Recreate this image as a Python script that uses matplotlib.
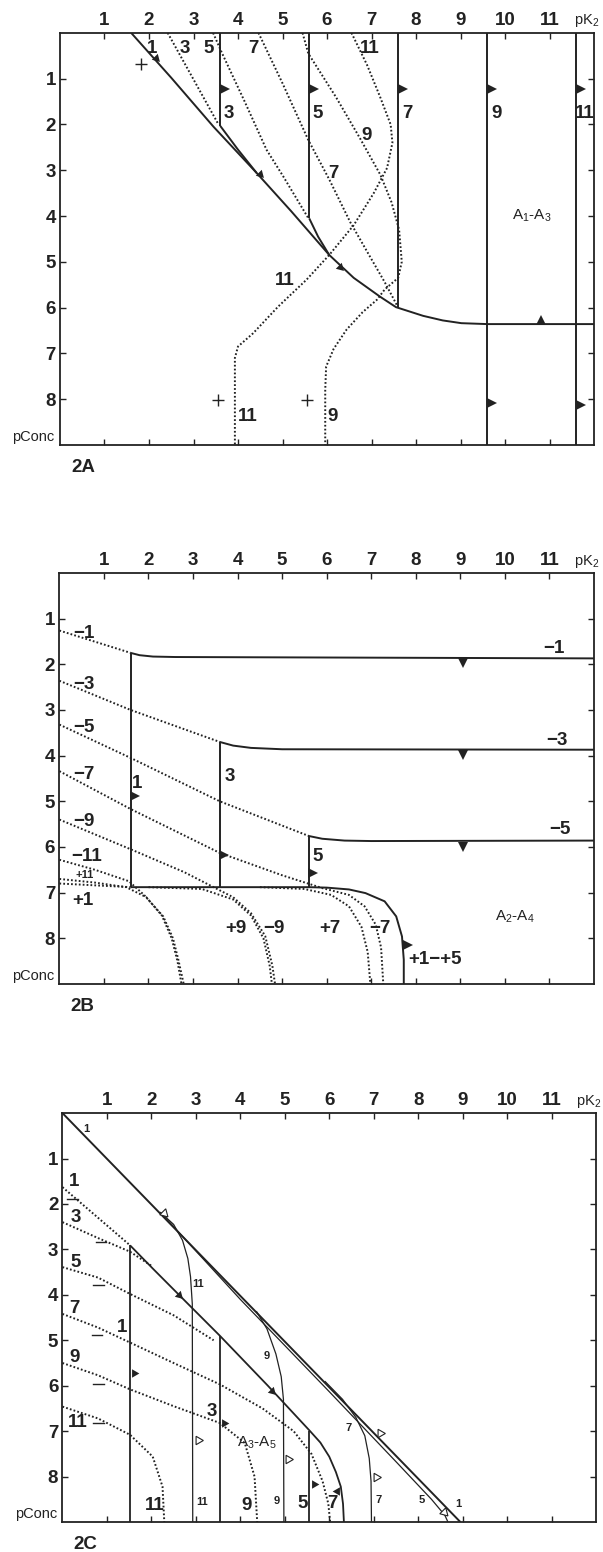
import numpy as np
import matplotlib.pyplot as plt

plt.rcParams['font.family'] = ['Liberation Sans', 'DejaVu Sans']
plt.rcParams['mathtext.fontset'] = 'custom'
plt.rcParams['mathtext.rm'] = 'Liberation Sans'
plt.rcParams['mathtext.it'] = 'Liberation Sans'

INK = '#222222'
DOT = (0, (0.9, 1.1))
FS = 13.5

# ---------------- panel 2A data ----------------
a_main_x = [1.6, 2.5, 3.45, 4.42, 5.2, 6.05, 6.6, 7.19, 7.55, 8.16, 8.6, 9.02, 9.6, 12.0]
a_main_y = [0.0, 0.98, 2.05, 3.06, 3.9, 4.85, 5.35, 5.76, 5.99, 6.18, 6.28, 6.34, 6.36, 6.36]
a_branch3_x = [3.6, 4.0, 4.42]
a_branch3_y = [2.03, 2.55, 3.06]
a_branch5_x = [5.6, 5.8, 6.05]
a_branch5_y = [4.05, 4.45, 4.85]
a_vert_x = [3.6, 5.6, 7.6, 9.6, 11.6]
a_vert_bot = [2.03, 4.05, 6.0, 9.0, 9.0]
a_vert_lab = ['3', '5', '7', '9', '11']

a_dot3_x = [2.42, 3.55]
a_dot3_y = [0.0, 1.98]
a_dot5_x = [3.44, 3.64, 4.15, 4.64, 5.02, 5.57]
a_dot5_y = [0.0, 0.44, 1.5, 2.55, 3.14, 4.03]
a_dot7_x = [4.46, 5.0, 5.58, 6.05, 6.52, 6.95, 7.3, 7.6]
a_dot7_y = [0.0, 1.1, 2.34, 3.2, 4.13, 4.86, 5.45, 6.0]
a_dot9_x = [5.45, 5.58, 6.2, 6.74, 7.2, 7.45, 7.62, 7.68, 7.6, 7.3, 7.12, 6.8, 6.44, 6.15, 5.98, 5.96, 5.96]
a_dot9_y = [0.0, 0.45, 1.4, 2.3, 3.1, 3.7, 4.3, 5.0, 5.35, 5.6, 5.83, 6.1, 6.48, 6.9, 7.29, 7.8, 9.0]
a_dot11_x = [6.55, 6.9, 7.19, 7.43, 7.47, 7.35, 7.05, 6.6, 6.05, 5.54, 4.9, 4.34, 4.0, 3.93, 3.93]
a_dot11_y = [0.0, 0.7, 1.39, 2.0, 2.4, 2.95, 3.5, 4.2, 4.85, 5.39, 5.98, 6.56, 6.85, 7.1, 9.0]

a_tri_right = [(3.7, 1.22), (5.7, 1.22), (7.7, 1.22), (9.7, 1.22), (11.7, 1.22), (9.7, 8.09), (11.7, 8.13)]
a_tri_diag = [(2.15, 0.55), (4.5, 3.08), (6.3, 5.12)]
a_tri_up = [(10.8, 6.26)]
a_plus = [(1.81, 0.68), (3.56, 8.01), (5.54, 8.01)]
a_labels = [('1', 2.07, 0.33), ('3', 2.8, 0.33), ('5', 3.34, 0.33), ('7', 4.35, 0.33),
            ('11', 6.95, 0.33), ('9', 6.88, 2.24), ('7', 6.15, 3.08), ('11', 5.05, 5.41),
            ('11', 4.22, 8.38), ('9', 6.12, 8.38)]

# ---------------- panel 2B data ----------------
b_vert_x = [1.6, 3.6, 5.6]
b_vert_top = [1.75, 3.7, 5.76]
b_vert_bot = 6.88
b_top1_x = [1.6, 1.8, 2.1, 2.6, 12.0]
b_top1_y = [1.75, 1.8, 1.83, 1.84, 1.87]
b_top3_x = [3.6, 3.9, 4.3, 5.0, 12.0]
b_top3_y = [3.7, 3.78, 3.83, 3.86, 3.87]
b_top5_x = [5.6, 5.9, 6.4, 7.0, 12.0]
b_top5_y = [5.76, 5.82, 5.86, 5.87, 5.86]
b_bot_x = [1.6, 5.6, 6.0, 6.5, 6.87, 7.3, 7.56, 7.69, 7.73, 7.73]
b_bot_y = [6.88, 6.88, 6.89, 6.93, 7.01, 7.19, 7.52, 7.96, 8.47, 9.0]

b_dm1_x = [0.0, 1.6]
b_dm1_y = [1.26, 1.75]
b_dm3_x = [0.0, 1.6, 3.6]
b_dm3_y = [2.36, 3.0, 3.7]
b_dm5_x = [0.0, 1.6, 3.6, 5.6]
b_dm5_y = [3.32, 4.05, 5.0, 5.76]
b_dm7_x = [0.0, 1.6, 3.6, 5.0, 5.9, 6.5, 6.85, 7.1, 7.22, 7.27]
b_dm7_y = [4.34, 5.17, 6.13, 6.62, 6.9, 7.05, 7.3, 7.7, 8.2, 9.0]
b_dp7_x = [4.5, 5.5, 6.1, 6.5, 6.78, 6.92, 6.98]
b_dp7_y = [6.88, 6.92, 7.05, 7.3, 7.75, 8.3, 9.0]
b_dm9_x = [0.0, 1.6, 2.8, 3.4, 3.9, 4.3, 4.62, 4.78, 4.84]
b_dm9_y = [5.4, 6.05, 6.55, 6.85, 7.1, 7.45, 7.95, 8.6, 9.0]
b_dp9_x = [2.0, 3.2, 3.9, 4.3, 4.58, 4.72, 4.77]
b_dp9_y = [6.88, 6.92, 7.15, 7.5, 8.0, 8.6, 9.0]
b_dm11_x = [0.0, 0.8, 1.56, 1.9, 2.33, 2.55, 2.67, 2.79]
b_dm11_y = [6.28, 6.5, 6.75, 7.05, 7.52, 8.0, 8.47, 9.0]
b_dp11_x = [0.0, 0.8, 1.5, 1.95, 2.3, 2.52, 2.65, 2.74]
b_dp11_y = [6.7, 6.78, 6.88, 7.1, 7.5, 8.0, 8.5, 9.0]
b_dp1_x = [0.0, 0.8, 1.6]
b_dp1_y = [6.8, 6.84, 6.88]

b_tri_down = [(9.07, 1.98), (9.07, 3.99), (9.07, 5.99)]
b_tri_right = [(1.7, 4.88), (3.7, 6.17), (5.7, 6.56), (7.82, 8.15)]
b_labels = [('−1', 0.55, 1.33), ('−3', 0.55, 2.45), ('−5', 0.55, 3.39), ('−7', 0.55, 4.41),
            ('−9', 0.55, 5.44), ('−11', 0.62, 6.2), ('+1', 0.52, 7.18),
            ('−1', 11.1, 1.66), ('−3', 11.17, 3.66), ('−5', 11.23, 5.62),
            ('1', 1.74, 4.6), ('3', 3.82, 4.45), ('5', 5.8, 6.2),
            ('+9', 3.96, 7.78), ('−9', 4.82, 7.78), ('+7', 6.07, 7.78), ('−7', 7.2, 7.78)]

# ---------------- panel 2C data ----------------
c_main_x = [0.0, 8.95]
c_main_y = [0.0, 9.0]
c_thin11_x = [2.2, 2.5, 2.7, 2.82, 2.88, 2.92, 2.93]
c_thin11_y = [2.18, 2.45, 2.8, 3.2, 3.6, 4.2, 9.0]
c_thin9_x = [4.36, 4.6, 4.8, 4.92, 4.97, 4.98]
c_thin9_y = [4.36, 4.75, 5.3, 5.8, 6.3, 9.0]
c_thin7_x = [5.9, 6.3, 6.6, 6.8, 6.9, 6.94, 6.95]
c_thin7_y = [5.9, 6.3, 6.7, 7.1, 7.6, 8.1, 9.0]
c_thin5_x = [2.2, 4.0, 6.0, 7.5, 8.3, 8.6, 8.67]
c_thin5_y = [2.18, 4.1, 6.13, 7.67, 8.5, 8.85, 9.0]
c_vert_x = [1.52, 3.54, 5.55]
c_vert_top = [2.91, 4.9, 7.0]
c_diag_x = [1.52, 2.03, 2.6, 3.54, 4.62, 5.57, 5.8, 6.0, 6.15, 6.26, 6.31, 6.33]
c_diag_y = [2.91, 3.42, 3.98, 4.9, 6.0, 7.0, 7.25, 7.56, 7.9, 8.22, 8.6, 9.0]

c_dot1_x = [0.0, 1.52]
c_dot1_y = [1.63, 2.91]
c_dot3_x = [0.0, 0.8, 1.52, 2.03]
c_dot3_y = [2.4, 2.75, 3.05, 3.38]
c_dot5_x = [0.0, 0.8, 1.52, 2.5, 3.4]
c_dot5_y = [3.39, 3.62, 3.98, 4.45, 5.0]
c_dot7_x = [0.0, 0.8, 1.52, 2.5, 3.54, 4.5, 5.2, 5.6, 5.85, 5.98, 6.02]
c_dot7_y = [4.42, 4.72, 5.05, 5.5, 5.97, 6.5, 7.0, 7.5, 8.1, 8.6, 9.0]
c_dot9_x = [0.0, 0.8, 1.52, 2.5, 3.54, 4.1, 4.32, 4.38]
c_dot9_y = [5.5, 5.77, 6.08, 6.45, 6.82, 7.26, 8.0, 9.0]
c_dot11_x = [0.0, 0.8, 1.52, 2.03, 2.25, 2.29]
c_dot11_y = [6.46, 6.72, 7.08, 7.56, 8.22, 9.0]

c_tri_fill = [(1.62, 5.73, -90), (3.64, 6.83, -90), (5.66, 8.17, -90),
              (2.62, 4.0, -135), (4.72, 6.12, -135), (6.18, 8.31, 90)]
c_tri_open = [(2.28, 2.2, -135), (3.05, 7.2, -90), (5.07, 7.62, -90),
              (7.14, 7.04, -90), (7.05, 8.01, -90), (8.58, 8.77, -135)]
c_dash = [(0.22, 1.88), (0.87, 2.84), (0.81, 3.78), (0.78, 4.89), (0.81, 5.96), (0.81, 6.83)]
c_labels = [('1', 0.27, 1.51), ('3', 0.29, 2.3), ('5', 0.29, 3.28), ('7', 0.28, 4.31),
            ('9', 0.28, 5.38), ('11', 0.35, 6.8), ('1', 1.34, 4.72), ('3', 3.37, 6.56),
            ('11', 2.08, 8.63), ('9', 4.13, 8.63), ('5', 5.4, 8.59), ('7', 6.07, 8.59)]
c_small = [('1', 0.53, 0.34), ('11', 3.05, 3.76), ('11', 3.13, 8.55), ('9', 4.6, 5.34),
           ('9', 4.81, 8.53), ('7', 6.43, 6.93), ('7', 7.12, 8.52), ('5', 8.07, 8.52),
           ('1', 8.9, 8.6)]


def setup(ax, name):
    ax.set_xlim(0, 12)
    ax.set_ylim(9, 0)
    ax.set_xticks(range(1, 12))
    ax.set_yticks(range(1, 9))
    ax.tick_params(direction='in', top=True, bottom=True, left=True, right=True,
                   labeltop=True, labelbottom=False, length=4, width=1.0,
                   labelsize=FS, pad=3, colors=INK)
    for lab in ax.get_xticklabels() + ax.get_yticklabels():
        lab.set_fontweight('bold')
    for s in ax.spines.values():
        s.set_linewidth(1.3)
        s.set_color(INK)
    ax.text(11.55, -0.26, 'pK$_2$', fontsize=10.5, color=INK, ha='left', va='center', clip_on=False)
    ax.text(-0.12, 8.82, 'pConc', fontsize=10.5, color=INK, ha='right', va='center', clip_on=False)
    ax.text(0.52, 9.5, name, fontsize=13.5, fontweight='bold', color=INK, ha='center',
            va='center', clip_on=False)


def dotted(ax, x, y):
    ax.plot(x, y, color=INK, lw=1.4, linestyle=DOT, dash_capstyle='butt')


def solid(ax, x, y, lw=1.4):
    ax.plot(x, y, color=INK, lw=lw, solid_capstyle='butt')


def label(ax, s, x, y, size=FS, weight='bold'):
    ax.text(x, y, s, fontsize=size, fontweight=weight, color=INK, ha='center', va='center')


fig = plt.figure(figsize=(6.03, 15.52), dpi=100)
axA = fig.add_axes([0.0995, 0.7133, 0.8856, 0.2655])
axB = fig.add_axes([0.0985, 0.3660, 0.8866, 0.2648])
axC = fig.add_axes([0.1036, 0.0193, 0.8848, 0.2635])

# ---- 2A ----
setup(axA, '2A')
solid(axA, a_main_x, a_main_y)
solid(axA, a_branch3_x, a_branch3_y)
solid(axA, a_branch5_x, a_branch5_y)
for xv, yb in zip(a_vert_x, a_vert_bot):
    solid(axA, [xv, xv], [0, yb])
for xv, s in zip(a_vert_x, a_vert_lab):
    label(axA, s, xv + 0.2, 1.77)
for x, y in [(a_dot3_x, a_dot3_y), (a_dot5_x, a_dot5_y), (a_dot7_x, a_dot7_y),
             (a_dot9_x, a_dot9_y), (a_dot11_x, a_dot11_y)]:
    dotted(axA, x, y)
for x, y in a_tri_right:
    axA.plot(x, y, marker='>', ms=7, color=INK, mew=0)
for x, y in a_tri_diag:
    axA.plot(x, y, marker=(3, 0, -135), ms=7, color=INK, mew=0)
for x, y in a_tri_up:
    axA.plot(x, y, marker='^', ms=7, color=INK, mew=0)
for x, y in a_plus:
    axA.plot(x, y, marker='+', ms=9, color=INK, mew=1.0)
for s, x, y in a_labels:
    label(axA, s, x, y)
axA.text(10.6, 4.0, 'A$_1$-A$_3$', fontsize=11, color=INK, ha='center', va='center')

# ---- 2B ----
setup(axB, '2B')
for xv, yt in zip(b_vert_x, b_vert_top):
    solid(axB, [xv, xv], [yt, b_vert_bot])
solid(axB, b_top1_x, b_top1_y)
solid(axB, b_top3_x, b_top3_y)
solid(axB, b_top5_x, b_top5_y)
solid(axB, b_bot_x, b_bot_y)
for x, y in [(b_dm1_x, b_dm1_y), (b_dm3_x, b_dm3_y), (b_dm5_x, b_dm5_y), (b_dm7_x, b_dm7_y),
             (b_dp7_x, b_dp7_y), (b_dm9_x, b_dm9_y), (b_dp9_x, b_dp9_y),
             (b_dm11_x, b_dm11_y), (b_dp11_x, b_dp11_y), (b_dp1_x, b_dp1_y)]:
    dotted(axB, x, y)
for x, y in b_tri_down:
    axB.plot(x, y, marker='v', ms=7, color=INK, mew=0)
for x, y in b_tri_right:
    axB.plot(x, y, marker='>', ms=7, color=INK, mew=0)
for s, x, y in b_labels:
    label(axB, s, x, y)
label(axB, '+11', 0.57, 6.62, size=8)
axB.text(7.82, 8.46, '+1−+5', fontsize=FS, fontweight='bold', color=INK, ha='left', va='center')
axB.text(10.23, 7.52, 'A$_2$-A$_4$', fontsize=11, color=INK, ha='center', va='center')

# ---- 2C ----
setup(axC, '2C')
solid(axC, c_main_x, c_main_y, lw=1.4)
for x, y in [(c_thin11_x, c_thin11_y), (c_thin9_x, c_thin9_y), (c_thin7_x, c_thin7_y),
             (c_thin5_x, c_thin5_y)]:
    solid(axC, x, y, lw=0.9)
for xv, yt in zip(c_vert_x, c_vert_top):
    solid(axC, [xv, xv], [yt, 9.0], lw=1.3)
solid(axC, c_diag_x, c_diag_y, lw=1.3)
for x, y in [(c_dot1_x, c_dot1_y), (c_dot3_x, c_dot3_y), (c_dot5_x, c_dot5_y),
             (c_dot7_x, c_dot7_y), (c_dot9_x, c_dot9_y), (c_dot11_x, c_dot11_y)]:
    dotted(axC, x, y)
for x, y, ang in c_tri_fill:
    axC.plot(x, y, marker=(3, 0, ang), ms=7, color=INK, mew=0)
for x, y, ang in c_tri_open:
    axC.plot(x, y, marker=(3, 0, ang), ms=7, mfc='white', mec=INK, mew=0.8)
for x, y in c_dash:
    axC.plot([x - 0.12, x + 0.12], [y, y], color=INK, lw=1.0)
for s, x, y in c_labels:
    label(axC, s, x, y)
for s, x, y in c_small:
    label(axC, s, x, y, size=8)
axC.text(4.36, 7.26, 'A$_3$-A$_5$', fontsize=11, color=INK, ha='center', va='center')

fig.savefig('out.png', dpi=100, facecolor='white')
